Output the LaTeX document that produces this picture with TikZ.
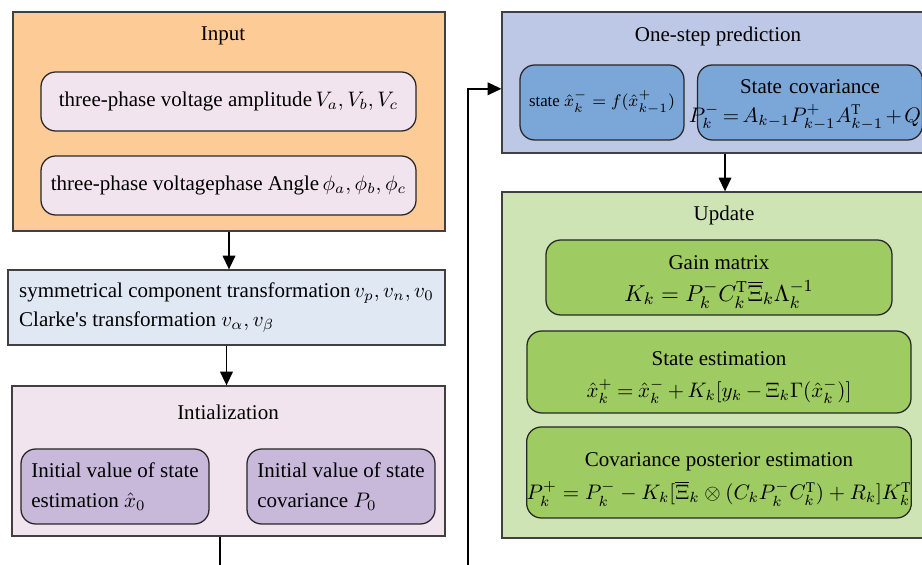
\documentclass[tikz,border=0pt]{standalone}
\usepackage{amsmath}
\usepackage{amssymb}
\usepackage{fontspec}
\setmainfont{Liberation Serif}
\usepackage{tikz}
\usetikzlibrary{arrows.meta, positioning}
\usepackage{xcolor}
\definecolor{inorange}{RGB}{253,203,150}
\definecolor{palepink}{RGB}{242,228,239}
\definecolor{paleblue}{RGB}{224,232,244}
\definecolor{lavender}{RGB}{200,184,218}
\definecolor{predblue}{RGB}{188,200,230}
\definecolor{midblue}{RGB}{123,167,216}
\definecolor{palegreen}{RGB}{207,228,180}
\definecolor{leafgreen}{RGB}{158,203,98}
\newlength{\px}
\setlength{\px}{0.476pt}
\newcommand{\tightmath}{\thickmuskip=4mu\medmuskip=3mu}

\begin{document}
\begin{tikzpicture}[x=0.476pt, y=-0.476pt, >={Triangle[length=6.5pt,width=6pt]},
    frame/.style={draw=black!75, line width=0.6pt, inner sep=0pt},
    card/.style={draw=black!85, line width=0.6pt, rounded corners=7pt,
                 inner sep=0pt, align=center},
    title/.style={inner sep=1pt},
    link/.style={->, line width=0.7pt}]
  \useasboundingbox (0,0) rectangle (922,565);

  % Input
  \node[frame, fill=inorange, minimum width=432*\px, minimum height=219*\px]
    (input) at (229,121.5) {};
  \node[title] (intitle) at (223,36) {Input};
  \node[card, fill=palepink, minimum width=375*\px, minimum height=59*\px]
    (amp) at (228.5,101.5) {three-phase voltage amplitude\,$V_a, V_b, V_c$};
  \node[card, fill=palepink, minimum width=375*\px, minimum height=59*\px]
    (ang) at (228.5,185.5) {three-phase voltagephase Angle\,$\phi_a, \phi_b, \phi_c$};

  % Transformation
  \node[frame, fill=paleblue, align=left, minimum width=437*\px, minimum height=75*\px]
    (trans) at (226.5,307.5)
    {symmetrical component transformation\,$v_p, v_n, v_0$\\[2pt]
     Clarke\textquotesingle s transformation $v_\alpha, v_\beta$};

  % Initialization
  \node[frame, fill=palepink, minimum width=433*\px, minimum height=150*\px]
    (init) at (228.5,461) {};
  \node[title] (inittitle) at (228,412) {Intialization};
  \node[card, fill=lavender, align=left, minimum width=188*\px, minimum height=75*\px]
    (x0) at (115,486.5) {Initial value of state\\[2pt] estimation $\hat{x}_0$};
  \node[card, fill=lavender, align=left, minimum width=188*\px, minimum height=75*\px]
    (p0) at (341,486.5) {Initial value of state\\[2pt] covariance $P_0$};

  % One-step prediction
  \node[frame, fill=predblue, minimum width=446*\px, minimum height=141*\px]
    (pred) at (725,82.5) {};
  \node[title] (predtitle) at (718,36) {One-step prediction};
  \node[card, fill=midblue, minimum width=164*\px, minimum height=75*\px]
    (xpred) at (602,102.5) {\footnotesize state $\hat{x}_k^- = f(\hat{x}_{k-1}^+)$};
  \node[card, fill=midblue, text width=107pt, minimum height=75*\px]
    (ppred) at (810,102.5)
    {\rule{0pt}{9pt}State covariance\\[2pt]
     \makebox[\linewidth]{\thickmuskip=3mu\medmuskip=2mu$P_k^- = A_{k-1}P_{k-1}^+A_{k-1}^{\mathrm{T}} + Q_k$}};

  % Update
  \node[frame, fill=palegreen, minimum width=446*\px, minimum height=346*\px]
    (update) at (725,365) {};
  \node[title] (uptitle) at (724,215) {Update};
  \node[card, fill=leafgreen, minimum width=346*\px, minimum height=75*\px]
    (gain) at (719,277.5)
    {\rule{0pt}{11pt}Gain matrix\\[3pt]
     {\fontsize{10.95}{13}\selectfont
      $K_k = P_k^- C_k^{\mathrm{T}}\overline{\Xi}_k\Lambda_k^{-1}$}};
  \node[card, fill=leafgreen, minimum width=384*\px, minimum height=82*\px]
    (xest) at (719,372)
    {\rule{0pt}{12pt}State estimation\\[3pt]
     \tightmath$\hat{x}_k^+ = \hat{x}_k^- + K_k[y_k - \Xi_k\Gamma(\hat{x}_k^-)]$};
  \node[card, fill=leafgreen, minimum width=384*\px, minimum height=91*\px]
    (pest) at (719,472.5)
    {\rule{0pt}{13pt}Covariance posterior estimation\\[4pt]
     $P_k^+ = P_k^- - K_k[\overline{\Xi}_k \otimes (C_k P_k^- C_k^{\mathrm{T}}) + R_k]K_k^{\mathrm{T}}$};

  % Connectors
  \coordinate (back) at (468,600);
  \draw[link] (input.south) -- (input.south |- trans.north);
  \draw[link] (trans.south) -- (trans.south |- init.north);
  \draw[link] (pred.south) -- (pred.south |- update.north);
  \draw[link] ([xshift=-4pt]init.south) |- (back) |- ([yshift=-3pt]pred.west);
\end{tikzpicture}
\end{document}
